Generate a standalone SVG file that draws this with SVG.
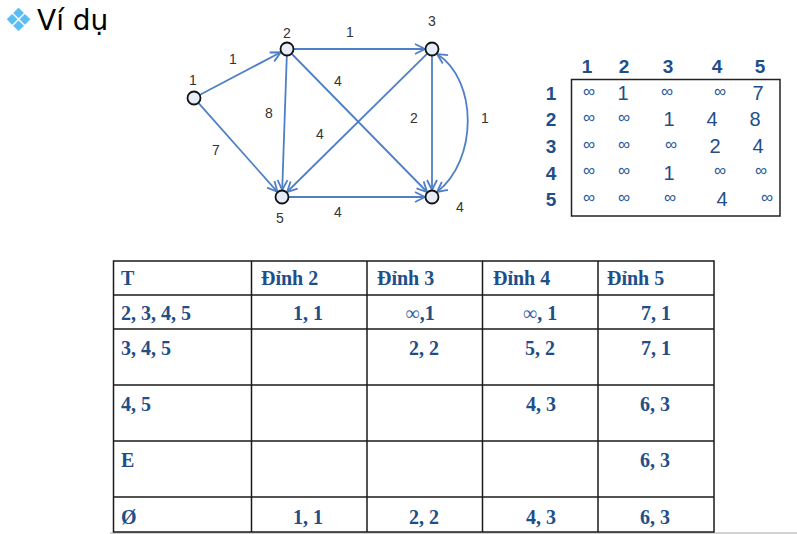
<svg xmlns="http://www.w3.org/2000/svg" width="797" height="534" viewBox="0 0 797 534">
<style>
.edge{fill:none;stroke:#4F7FC6;stroke-width:1.8;}
.node{fill:#E6EDF8;stroke:#111;stroke-width:1.8;}
.gl{font-family:"Liberation Sans",Arial,sans-serif;font-size:14px;fill:#333;text-anchor:middle;}
.mh{font-family:"Liberation Sans",Arial,sans-serif;font-size:19px;font-weight:bold;fill:#1F4E89;text-anchor:middle;}
.mc{font-family:"Liberation Sans",Arial,sans-serif;font-size:20px;fill:#1F4E89;text-anchor:middle;}
.mi{font-family:"Liberation Sans",Arial,sans-serif;font-size:17px;fill:#2A5A9C;text-anchor:middle;}
.tt{font-family:"Liberation Serif","Times New Roman",serif;font-size:20px;font-weight:bold;fill:#1F4E89;}
.tc{font-family:"Liberation Serif","Times New Roman",serif;font-size:20px;font-weight:bold;fill:#1F4E89;text-anchor:middle;}
.inf{font-weight:normal;fill:#3A67A8;}
.grid{stroke:#1a1a1a;stroke-width:1.5;fill:none;}
</style>
<defs>
<marker id="arr" markerUnits="userSpaceOnUse" markerWidth="14" markerHeight="14" refX="11" refY="6" orient="auto-start-reverse" viewBox="0 0 14 12">
<path d="M1,1 L11,6 L1,11" fill="none" stroke="#4F7FC6" stroke-width="1.8"/>
</marker>
</defs>
<rect width="797" height="534" fill="#fff"/>

<g id="title">
<text x="4" y="31" font-family="DejaVu Sans,sans-serif" font-size="32" fill="#5BBEF2">❖</text>
<text x="37" y="30" font-family="DejaVu Sans,sans-serif" font-size="28" fill="#000">Ví dụ</text>
</g>

<g id="connectors">
<line class="edge" x1="200" y1="94.7" x2="280.8" y2="52.3" marker-end="url(#arr)"/>
<line class="edge" x1="198.6" y1="103.2" x2="277.4" y2="191.8" marker-end="url(#arr)"/>
<line class="edge" x1="294" y1="49" x2="425" y2="49" marker-end="url(#arr)"/>
<line class="edge" x1="286.8" y1="56" x2="282.2" y2="190" marker-end="url(#arr)"/>
<line class="edge" x1="291.9" y1="54" x2="427.1" y2="192" marker-end="url(#arr)"/>
<line class="edge" x1="427" y1="53.9" x2="287" y2="192" marker-end="url(#arr)"/>
<line class="edge" x1="432" y1="56" x2="432" y2="190" marker-end="url(#arr)"/>
<line class="edge" x1="289" y1="197" x2="425" y2="197" marker-end="url(#arr)"/>
<path class="edge" d="M437,192 C478,160 478,80 437,54" marker-start="url(#arr)" marker-end="url(#arr)"/>
<text class="gl" x="233" y="64">1</text>
<text class="gl" x="216" y="155">7</text>
<text class="gl" x="350" y="37">1</text>
<text class="gl" x="338" y="86">4</text>
<text class="gl" x="269" y="118">8</text>
<text class="gl" x="320" y="139">4</text>
<text class="gl" x="414" y="123">2</text>
<text class="gl" x="485" y="123">1</text>
<text class="gl" x="338" y="217">4</text>
</g>

<g id="node1"><circle class="node" cx="194" cy="98" r="6.5"/><text class="gl" x="193" y="85">1</text></g>
<g id="node2"><circle class="node" cx="287" cy="49" r="6.5"/><text class="gl" x="287" y="38">2</text></g>
<g id="node3"><circle class="node" cx="432" cy="49" r="6.5"/><text class="gl" x="432" y="26">3</text></g>
<g id="node4"><circle class="node" cx="432" cy="197" r="6.5"/><text class="gl" x="460" y="212">4</text></g>
<g id="node5"><circle class="node" cx="282" cy="197" r="6.5"/><text class="gl" x="280" y="223">5</text></g>

<g id="matrix">
<rect x="571.5" y="79.5" width="208.5" height="136.5" fill="none" stroke="#222" stroke-width="1.5"/>
<text class="mh" x="587" y="73">1</text>
<text class="mh" x="624" y="73">2</text>
<text class="mh" x="668" y="73">3</text>
<text class="mh" x="717" y="73">4</text>
<text class="mh" x="760" y="73">5</text>
<text class="mh" x="551" y="100">1</text>
<text class="mh" x="551" y="126">2</text>
<text class="mh" x="551" y="153">3</text>
<text class="mh" x="551" y="180">4</text>
<text class="mh" x="551" y="206">5</text>
<text class="mi" x="589" y="97">∞</text>
<text class="mc" x="623" y="100">1</text>
<text class="mi" x="667" y="97">∞</text>
<text class="mi" x="720" y="97">∞</text>
<text class="mc" x="758" y="100">7</text>
<text class="mi" x="589" y="123">∞</text>
<text class="mi" x="624" y="123">∞</text>
<text class="mc" x="669" y="126">1</text>
<text class="mc" x="712" y="126">4</text>
<text class="mc" x="755" y="126">8</text>
<text class="mi" x="589" y="149.5">∞</text>
<text class="mi" x="624" y="149.5">∞</text>
<text class="mi" x="671" y="149.5">∞</text>
<text class="mc" x="715" y="153">2</text>
<text class="mc" x="758" y="153">4</text>
<text class="mi" x="589" y="176">∞</text>
<text class="mi" x="624" y="176">∞</text>
<text class="mc" x="669" y="180">1</text>
<text class="mi" x="720" y="176">∞</text>
<text class="mi" x="761" y="176">∞</text>
<text class="mi" x="589" y="203">∞</text>
<text class="mi" x="624" y="203">∞</text>
<text class="mi" x="670" y="203">∞</text>
<text class="mc" x="722" y="206">4</text>
<text class="mi" x="767" y="203">∞</text>
</g>

<g id="table">
<line x1="110" y1="533" x2="797" y2="533" stroke="#C4C4C4" stroke-width="1.5"/>
<rect class="grid" x="113.5" y="261" width="600.5" height="271"/>
<line class="grid" x1="251.5" y1="261" x2="251.5" y2="532"/>
<line class="grid" x1="367" y1="261" x2="367" y2="532"/>
<line class="grid" x1="482.5" y1="261" x2="482.5" y2="532"/>
<line class="grid" x1="598" y1="261" x2="598" y2="532"/>
<line class="grid" x1="113.5" y1="295" x2="714" y2="295"/>
<line class="grid" x1="113.5" y1="329" x2="714" y2="329"/>
<line class="grid" x1="113.5" y1="385" x2="714" y2="385"/>
<line class="grid" x1="113.5" y1="441" x2="714" y2="441"/>
<line class="grid" x1="113.5" y1="497" x2="714" y2="497"/>

<text class="tt" x="121" y="285">T</text>
<text class="tt" x="261" y="285">Đỉnh 2</text>
<text class="tt" x="377" y="285">Đỉnh 3</text>
<text class="tt" x="493" y="285">Đỉnh 4</text>
<text class="tt" x="607" y="285">Đỉnh 5</text>

<text class="tt" x="121" y="320">2, 3, 4, 5</text>
<text class="tc" x="308" y="320">1, 1</text>
<text class="tc" x="420" y="320"><tspan class="inf">∞</tspan>,1</text>
<text class="tc" x="540" y="320"><tspan class="inf">∞</tspan>, 1</text>
<text class="tc" x="656" y="320">7, 1</text>

<text class="tt" x="121" y="355">3, 4, 5</text>
<text class="tc" x="424" y="355">2, 2</text>
<text class="tc" x="540" y="355">5, 2</text>
<text class="tc" x="656" y="355">7, 1</text>

<text class="tt" x="121" y="411">4, 5</text>
<text class="tc" x="541" y="411">4, 3</text>
<text class="tc" x="655" y="411">6, 3</text>

<text class="tt" x="121" y="467">E</text>
<text class="tc" x="655" y="467">6, 3</text>

<text class="tt" x="121" y="524">Ø</text>
<text class="tc" x="308" y="524">1, 1</text>
<text class="tc" x="424" y="524">2, 2</text>
<text class="tc" x="541" y="524">4, 3</text>
<text class="tc" x="655" y="524">6, 3</text>
</g>
</svg>
